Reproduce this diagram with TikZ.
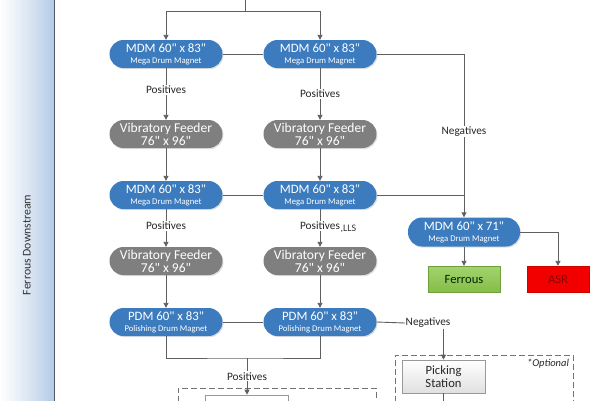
\documentclass[tikz,border=0pt]{standalone}
\usepackage{fontspec}
\setmainfont{Carlito}[Ligatures=TeXOff]
\usetikzlibrary{arrows.meta,shadows}
\definecolor{mblue}{HTML}{3C7BBE}
\definecolor{mgray}{HTML}{7F7F7F}
\definecolor{lgray}{HTML}{5F5F5F}
\definecolor{bandblue}{HTML}{B3CBE6}
\definecolor{fgreen}{HTML}{8CC84B}
\definecolor{fred}{HTML}{F20000}
\tikzset{
  pill/.style={rounded corners=14pt, minimum width=113pt, minimum height=28pt, inner sep=0.5pt,
    text=white, align=center, drop shadow={shadow xshift=1pt, shadow yshift=-1.2pt, opacity=0.25}},
  magnet/.style={pill, fill=mblue},
  feeder/.style={pill, fill=mgray, font=\fontsize{13.5}{13}\selectfont},
  conn/.style={draw=lgray, line width=0.9pt},
  arr/.style={conn, -{Triangle[length=5pt,width=5pt]}},
  lbl/.style={fill=white, inner sep=1pt, text=black!85, font=\fontsize{11.3}{12}\selectfont},
  dashbox/.style={draw=black!55, line width=0.7pt, dash pattern=on 6pt off 3pt},
}
\newcommand{\magtxt}[2]{{\fontsize{12.8}{12}\selectfont #1}\\[-1pt]{\fontsize{8.7}{9}\selectfont #2}}
\begin{document}
\begin{tikzpicture}[x=1pt,y=-1pt]
\useasboundingbox (0,0) rectangle (600,400);
\clip (0,0) rectangle (600,400);
% left band
\shade[left color=white, right color=bandblue, middle color=white!55!bandblue] (0,-1) rectangle (54,401);
\draw[draw=black!55!bandblue, line width=1pt] (54,-1) -- (54,401);
\node[rotate=90, text=black!80, font=\fontsize{11.8}{12}\selectfont] (band) at (27,245) {Ferrous Downstream};

% nodes
\node[magnet] (m1L) at (166,54) {\magtxt{MDM 60" x 83"}{Mega Drum Magnet}};
\node[magnet] (m1R) at (320,54) {\magtxt{MDM 60" x 83"}{Mega Drum Magnet}};
\node[feeder] (v1L) at (166,134) {Vibratory Feeder\\76" x 96"};
\node[feeder] (v1R) at (320,134) {Vibratory Feeder\\76" x 96"};
\node[magnet] (m2L) at (166,195) {\magtxt{MDM 60" x 83"}{Mega Drum Magnet}};
\node[magnet] (m2R) at (320,195) {\magtxt{MDM 60" x 83"}{Mega Drum Magnet}};
\node[feeder] (v2L) at (166,261) {Vibratory Feeder\\76" x 96"};
\node[feeder] (v2R) at (320,261) {Vibratory Feeder\\76" x 96"};
\node[magnet] (pL) at (166,322) {\magtxt{PDM 60" x 83"}{Polishing Drum Magnet}};
\node[magnet] (pR) at (320,322) {\magtxt{PDM 60" x 83"}{Polishing Drum Magnet}};
\node[magnet, minimum width=112pt, minimum height=29pt] (m3) at (464,232) {\magtxt{MDM 60" x 71"}{Mega Drum Magnet}};
\node[draw=fgreen!80!black, line width=0.4pt, top color=fgreen!80!white, bottom color=fgreen!95!black, minimum width=72pt, minimum height=26pt, text=black!85!green, font=\fontsize{12.6}{13}\selectfont] (fer) at (464,279) {Ferrous};
\node[draw=fred!85!black, line width=0.4pt, fill=fred, minimum width=62pt, minimum height=26pt, text=red!55!black, font=\fontsize{12.6}{13}\selectfont] (asr) at (558,279) {ASR};

% dashed boxes
\draw[dashbox] (178,420) -- (178,388) -- (376,388) -- (376,420);
\draw[dashbox] (395,420) -- (395,355) -- (573,355) -- (573,420);
\node[font=\itshape\fontsize{10.5}{11}\selectfont, text=black!85] (opt) at (548,364) {*Optional};
\node[draw=black!40, line width=0.6pt, top color=white, bottom color=black!12, minimum width=83pt, minimum height=33pt, inner sep=1pt, align=center, text=black!85, font=\fontsize{12.6}{13}\selectfont] (pick) at (443.5,376.5) {Picking\\Station};
\node[draw=black!40, line width=0.6pt, fill=white, minimum width=83pt, minimum height=30pt] (inner) at (246.5,410) {};

% top feed
\coordinate (top) at (245,-2);
\coordinate (split) at (245,11);
\draw[conn] (top) -- (split);
\draw[arr] (split) -| (m1L.north);
\draw[arr] (split) -| (m1R.north);

% row links
\draw[conn] (m1L.east) -- (m1R.west);
\draw[conn] (m2L.east) -- (m2R.west);
\draw[conn] (pL.east) -- (pR.west);

% negatives column
\coordinate (negTop) at (464,54);
\coordinate (negMid) at (464,195);
\draw[conn] (m1R.east) -- (negTop);
\draw[conn] (m2R.east) -- (negMid);
\draw[arr] (negTop) -- node[lbl, pos=0.474] (neg1) {Negatives} (m3.north);

% positives
\draw[arr] (m1L.south) -- node[lbl, pos=0.42] (pos1L) {Positives} (v1L.north);
\draw[arr] (m1R.south) -- node[lbl, pos=0.5] (pos1R) {Positives} (v1R.north);
\draw[arr] (v1L.south) -- (m2L.north);
\draw[arr] (v1R.south) -- (m2R.north);
\draw[arr] (m2L.south) -- node[lbl, pos=0.45] (pos2L) {Positives} (v2L.north);
\draw[arr] (m2R.south) -- node[lbl, pos=0.45] (pos2R) {Positives} (v2R.north);
\node[font=\fontsize{10}{10}\selectfont, text=black!80, inner sep=0pt, anchor=west] (lls) at ([xshift=-1pt,yshift=-2.5pt]pos2R.east) {,LLS};
\draw[arr] (v2L.south) -- (pL.north);
\draw[arr] (v2R.south) -- (pR.north);

% bottom merge
\coordinate (mrg) at (247,358);
\draw[conn] (pL.south) |- (mrg) -| (pR.south);
\draw[arr] (mrg) -- node[lbl, pos=0.5] (pos3) {Positives} (inner.north -| mrg);

% PDM negatives
\node[lbl, anchor=west, inner sep=0.5pt] (neg2) at (405,323) {Negatives};
\draw[conn] (pR.east) -- (neg2.west);
\draw[arr] (neg2.south -| pick.north) -- (pick.north);
\coordinate (pickOut) at (443.5,405);
\draw[conn] (pick.south) -- (pickOut);

% mdm 71 outputs
\draw[arr] (m3.south) -- (fer.north);
\draw[arr] (m3.east) -| (asr.north);
\end{tikzpicture}
\end{document}
